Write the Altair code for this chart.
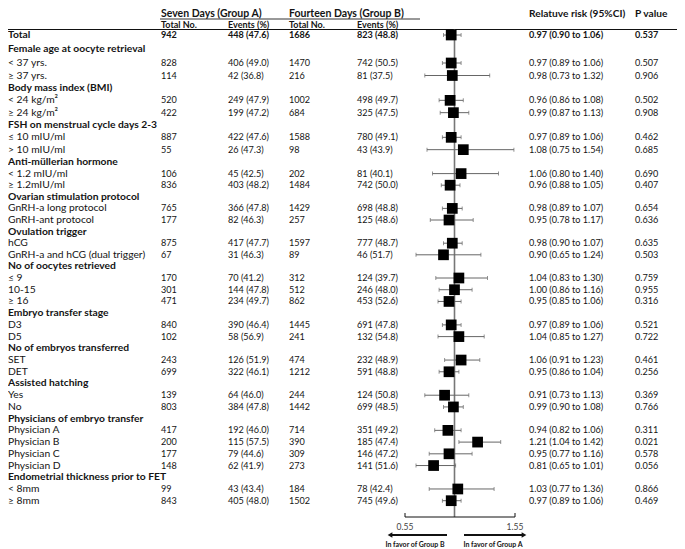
import altair as alt
import pandas as pd

labels = ["Total", "Female age at oocyte retrieval", "< 37 yrs.", "≥ 37 yrs.",
          "Body mass index (BMI)", "< 24 kg/m²", "≥ 24 kg/m²",
          "FSH on menstrual cycle days 2-3", "≤ 10 mIU/ml", "> 10 mIU/ml",
          "Anti-müllerian hormone", "< 1.2 mIU/ml", "≥ 1.2mIU/ml",
          "Ovarian stimulation protocol", "GnRH-a long protocol", "GnRH-ant protocol",
          "Ovulation trigger", "hCG", "GnRH-a and hCG (dual trigger)",
          "No of oocytes retrieved", "≤ 9", "10-15", "≥ 16",
          "Embryo transfer stage", "D3", "D5",
          "No of embryos transferred", "SET", "DET",
          "Assisted hatching", "Yes", "No",
          "Physicians of embryo transfer", "Physician A", "Physician B", "Physician C", "Physician D",
          "Endometrial thickness prior to FET", "< 8mm", "≥ 8mm"]

total_a = [942, None, 828, 114, None, 520, 422, None, 887, 55, None, 106, 836, None, 765, 177,
           None, 875, 67, None, 170, 301, 471, None, 840, 102, None, 243, 699, None, 139, 803,
           None, 417, 200, 177, 148, None, 99, 843]
events_a = [448, None, 406, 42, None, 249, 199, None, 422, 26, None, 45, 403, None, 366, 82,
            None, 417, 31, None, 70, 144, 234, None, 390, 58, None, 126, 322, None, 64, 384,
            None, 192, 115, 79, 62, None, 43, 405]
pct_a = [47.6, None, 49.0, 36.8, None, 47.9, 47.2, None, 47.6, 47.3, None, 42.5, 48.2, None, 47.8, 46.3,
         None, 47.7, 46.3, None, 41.2, 47.8, 49.7, None, 46.4, 56.9, None, 51.9, 46.1, None, 46.0, 47.8,
         None, 46.0, 57.5, 44.6, 41.9, None, 43.4, 48.0]
total_b = [1686, None, 1470, 216, None, 1002, 684, None, 1588, 98, None, 202, 1484, None, 1429, 257,
           None, 1597, 89, None, 312, 512, 862, None, 1445, 241, None, 474, 1212, None, 244, 1442,
           None, 714, 390, 309, 273, None, 184, 1502]
events_b = [823, None, 742, 81, None, 498, 325, None, 780, 43, None, 81, 742, None, 698, 125,
            None, 777, 46, None, 124, 246, 453, None, 691, 132, None, 232, 591, None, 124, 699,
            None, 351, 185, 146, 141, None, 78, 745]
pct_b = [48.8, None, 50.5, 37.5, None, 49.7, 47.5, None, 49.1, 43.9, None, 40.1, 50.0, None, 48.8, 48.6,
         None, 48.7, 51.7, None, 39.7, 48.0, 52.6, None, 47.8, 54.8, None, 48.9, 48.8, None, 50.8, 48.5,
         None, 49.2, 47.4, 47.2, 51.6, None, 42.4, 49.6]
rr = [0.97, None, 0.97, 0.98, None, 0.96, 0.99, None, 0.97, 1.08, None, 1.06, 0.96, None, 0.98, 0.95,
      None, 0.98, 0.90, None, 1.04, 1.00, 0.95, None, 0.97, 1.04, None, 1.06, 0.95, None, 0.91, 0.99,
      None, 0.94, 1.21, 0.95, 0.81, None, 1.03, 0.97]
rr_lo = [0.90, None, 0.89, 0.73, None, 0.86, 0.87, None, 0.89, 0.75, None, 0.80, 0.88, None, 0.89, 0.78,
         None, 0.90, 0.65, None, 0.83, 0.86, 0.85, None, 0.89, 0.85, None, 0.91, 0.86, None, 0.73, 0.90,
         None, 0.82, 1.04, 0.77, 0.65, None, 0.77, 0.89]
rr_hi = [1.06, None, 1.06, 1.32, None, 1.08, 1.13, None, 1.06, 1.54, None, 1.40, 1.05, None, 1.07, 1.17,
         None, 1.07, 1.24, None, 1.30, 1.16, 1.06, None, 1.06, 1.27, None, 1.23, 1.04, None, 1.13, 1.08,
         None, 1.06, 1.42, 1.16, 1.01, None, 1.36, 1.06]
p_values = ["0.537", None, "0.507", "0.906", None, "0.502", "0.908", None, "0.462", "0.685", None, "0.690",
            "0.407", None, "0.654", "0.636", None, "0.635", "0.503", None, "0.759", "0.955", "0.316", None,
            "0.521", "0.722", None, "0.461", "0.256", None, "0.369", "0.766", None, "0.311", "0.021",
            "0.578", "0.056", None, "0.866", "0.469"]

axis_ticks = [0.55, 1.55]
group_headers = ["Seven Days (Group A)", "Fourteen Days (Group B)"]
col_headers = ["Total No.", "Events (%)", "Total No.", "Events (%)"]
rr_header = "Relatuve risk (95%CI)"
p_header = "P value"
favor_b = "In favor of Group B"
favor_a = "In favor of Group A"

FONT = "Lato"
FS_LABEL = 10.3
FS_NUM = 9.1
INK = "#141414"
W, H = 669, 541

recs = []
for i, lab in enumerate(labels):
    is_head = total_a[i] is None
    recs.append({
        "idx": i,
        "label": lab,
        "bold": (i == 0) or is_head,
        "ta": "" if is_head else str(total_a[i]),
        "ea": "" if is_head else f"{events_a[i]} ({pct_a[i]:.1f})",
        "tb": "" if is_head else str(total_b[i]),
        "eb": "" if is_head else f"{events_b[i]} ({pct_b[i]:.1f})",
        "rrt": "" if is_head else f"{rr[i]:.2f} ({rr_lo[i]:.2f} to {rr_hi[i]:.2f})",
        "p": "" if is_head else p_values[i],
        "rr": rr[i], "lo": rr_lo[i], "hi": rr_hi[i],
    })
df = pd.DataFrame(recs)
est = df[df["rr"].notna()].copy()

# piecewise row scale (the table rows are not evenly spaced)
YS = alt.Scale(domain=[0, 2, 4, 7, 10, 20, 39], range=[27, 55, 80, 117, 154, 270, 492.7])
XS = alt.Scale(domain=[0.55, 1.55], range=[397, 507])
Y = alt.Y("idx:Q", scale=YS, axis=None)
one = pd.DataFrame({"a": [0]})

layers = []

def col(field, xpx, bold, data, size):
    return alt.Chart(data).mark_text(
        align="left", baseline="middle", font=FONT, fontSize=size,
        fontWeight="bold" if bold else "normal", color=INK
    ).encode(x=alt.value(xpx), y=Y, text=f"{field}:N")

bold_df = df[df["bold"]]
reg_df = df[~df["bold"]]
for field, xpx in [("label", 0), ("ta", 153), ("ea", 220), ("tb", 281), ("eb", 349), ("rrt", 521), ("p", 627)]:
    size = FS_LABEL if field == "label" else FS_NUM
    layers.append(col(field, xpx, True, bold_df, size))
    layers.append(col(field, xpx, False, reg_df, size))

def static_text(s, xpx, ypx, size=FS_NUM, bold=True, align="left", color=INK, baseline="middle"):
    return alt.Chart(one).mark_text(
        text=s, align=align, baseline=baseline, font=FONT, fontSize=size,
        fontWeight="bold" if bold else "normal", color=color
    ).encode(x=alt.value(xpx), y=alt.value(ypx))

layers.append(static_text(group_headers[0], 153, 0.5, size=10.5, baseline="top"))
layers.append(static_text(group_headers[1], 281, 0.5, size=10.5, baseline="top"))
layers.append(static_text(rr_header, 521, 0.5, size=10.2, baseline="top"))
layers.append(static_text(p_header, 627, 0.5, size=10.2, baseline="top"))
for s, xpx in zip(col_headers, [153, 220, 281, 349]):
    layers.append(static_text(s, xpx, 16.5, size=9))

# header lines
layers.append(alt.Chart(one).mark_rule(color="#333", strokeWidth=1).encode(
    x=alt.value(152), x2=alt.value(412), y=alt.value(11)))
layers.append(alt.Chart(one).mark_rule(color="#111", strokeWidth=1.2).encode(
    x=alt.value(0), x2=alt.value(W), y=alt.value(21.5)))

# reference line at 1
ref = pd.DataFrame({"v": [1.0]})
layers.append(alt.Chart(ref).mark_rule(color="#777", strokeWidth=1.6).encode(
    x=alt.X("v:Q", scale=XS, axis=None), y=alt.value(21.5), y2=alt.value(509)))

# CI
layers.append(alt.Chart(est).mark_rule(color="#666", strokeWidth=1).encode(
    x=alt.X("lo:Q", scale=XS, axis=None), x2="hi:Q", y=Y))
layers.append(alt.Chart(est).mark_tick(orient="vertical", size=4, thickness=1, color="#666").encode(
    x=alt.X("lo:Q", scale=XS, axis=None), y=Y))
layers.append(alt.Chart(est).mark_tick(orient="vertical", size=4, thickness=1, color="#666").encode(
    x=alt.X("hi:Q", scale=XS, axis=None), y=Y))
layers.append(alt.Chart(est).mark_square(size=115, color="black", opacity=1).encode(
    x=alt.X("rr:Q", scale=XS, axis=None), y=Y))

# bottom axis
tk = pd.DataFrame({"v": axis_ticks, "t": [f"{v:.2f}" for v in axis_ticks]})
layers.append(alt.Chart(tk).mark_rule(color="#111", strokeWidth=1).encode(
    x=alt.X("min(v):Q", scale=XS, axis=None), x2="max(v):Q", y=alt.value(509)))
layers.append(alt.Chart(tk).mark_rule(color="#111", strokeWidth=1).encode(
    x=alt.X("v:Q", scale=XS, axis=None), y=alt.value(505), y2=alt.value(509)))
layers.append(alt.Chart(tk).mark_text(font=FONT, fontSize=8.5, color="#444", baseline="middle").encode(
    x=alt.X("v:Q", scale=XS, axis=None), y=alt.value(519), text="t:N"))

# arrows
layers.append(alt.Chart(one).mark_rule(color="#111", strokeWidth=1.8).encode(
    x=alt.value(383), x2=alt.value(439), y=alt.value(527)))
layers.append(alt.Chart(one).mark_point(shape="triangle-left", size=30, filled=True, color="#111", opacity=1).encode(
    x=alt.value(382), y=alt.value(527)))
layers.append(alt.Chart(one).mark_rule(color="#111", strokeWidth=1.8).encode(
    x=alt.value(456), x2=alt.value(514), y=alt.value(527)))
layers.append(alt.Chart(one).mark_point(shape="triangle-right", size=30, filled=True, color="#111", opacity=1).encode(
    x=alt.value(516), y=alt.value(527)))
layers.append(static_text(favor_b, 407, 537, size=7, align="center"))
layers.append(static_text(favor_a, 485, 537, size=7, align="center"))

chart = alt.layer(*layers).properties(
    width=W, height=H, padding=0,
    autosize=alt.AutoSizeParams(type="none"),
    background="white",
).configure_view(stroke=None)

chart.save("out.html", embed_options={"renderer": "svg", "actions": False})
